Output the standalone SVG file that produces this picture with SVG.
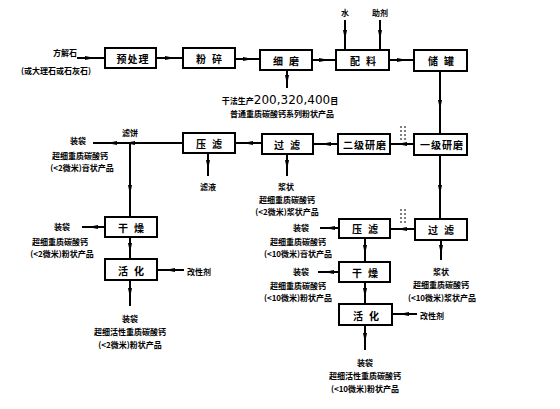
<svg xmlns="http://www.w3.org/2000/svg" width="560" height="409" viewBox="0 0 560 409">
<style>
.box{fill:#fff;stroke:#000;stroke-width:2}
.bl{font-family:"Noto Sans CJK SC","Noto Sans CJK JP",sans-serif;font-size:10px;font-weight:bold;text-anchor:middle;dominant-baseline:central;letter-spacing:6px}
.t{font-family:"Noto Sans CJK SC","Noto Sans CJK JP",sans-serif;font-size:8px;font-weight:bold;text-anchor:middle;dominant-baseline:central}
.num{font-family:"DejaVu Sans","Liberation Sans",sans-serif;font-size:12px;font-weight:normal}
.c{fill:none;stroke:#000;stroke-width:2}
.d{fill:none;stroke:#000;stroke-width:1;stroke-dasharray:2 2}
</style>
<defs>
<marker id="a" viewBox="0 0 10 6" refX="5" refY="3" markerWidth="10" markerHeight="6" markerUnits="userSpaceOnUse" orient="auto">
<path d="M0,1 L10,3 L0,5 Z" fill="#000"/>
</marker>
</defs>
<rect width="560" height="409" fill="#fff"/>
<g id="connectors">
<path class="c" d="M77,58 L90,58 L104,58" marker-mid="url(#a)"/>
<path class="c" d="M156,58 L170,58 L183,58" marker-mid="url(#a)"/>
<path class="c" d="M235,59 L248,59 L260,59" marker-mid="url(#a)"/>
<path class="c" d="M312,60 L324,60 L336,60" marker-mid="url(#a)"/>
<path class="c" d="M389,60 L402,60 L414,60" marker-mid="url(#a)"/>
<path class="c" d="M345,20 L345,35 L345,50" marker-mid="url(#a)"/>
<path class="c" d="M380,20 L380,35 L380,50" marker-mid="url(#a)"/>
<path class="c" d="M287,70 L287,80 L287,88" marker-mid="url(#a)"/>
<path class="c" d="M440,71 L440,105 L440,134" marker-mid="url(#a)"/>
<path class="c" d="M414,144 L402,144 L390,144" marker-mid="url(#a)"/>
<path class="c" d="M338,144 L326,144 L313,144" marker-mid="url(#a)"/>
<path class="c" d="M262,143 L248,143 L235,143" marker-mid="url(#a)"/>
<path class="c" d="M183,143 L130,143 L112,143 L93,143" marker-mid="url(#a)"/>
<path class="c" d="M130,143 L130,190 L130,217" marker-mid="url(#a)"/>
<path class="c" d="M208,153 L208,165 L208,176" marker-mid="url(#a)"/>
<path class="c" d="M287,154 L287,165 L287,176" marker-mid="url(#a)"/>
<path class="c" d="M104,227 L93,227 L82,227" marker-mid="url(#a)"/>
<path class="c" d="M130,237 L130,248 L130,259" marker-mid="url(#a)"/>
<path class="c" d="M184,270 L170,270 L157,270" marker-mid="url(#a)"/>
<path class="c" d="M130,280 L130,293 L130,306" marker-mid="url(#a)"/>
<path class="c" d="M440,155 L440,190 L440,219" marker-mid="url(#a)"/>
<path class="c" d="M415,229 L402,229 L390,229" marker-mid="url(#a)"/>
<path class="c" d="M339,228 L330,228 L320,228" marker-mid="url(#a)"/>
<path class="c" d="M365,238 L365,250 L365,262" marker-mid="url(#a)"/>
<path class="c" d="M339,272 L329,272 L318,272" marker-mid="url(#a)"/>
<path class="c" d="M365,282 L365,293 L365,304" marker-mid="url(#a)"/>
<path class="c" d="M417,314 L404,314 L392,314" marker-mid="url(#a)"/>
<path class="c" d="M365,325 L365,338 L365,350" marker-mid="url(#a)"/>
<path class="c" d="M441,240 L441,250 L441,260" marker-mid="url(#a)"/>
<path class="d" d="M401,126 L401,140 M405,126 L405,140"/>
<path class="d" d="M401,209 L401,223 M405,209 L405,223"/>
</g>
<g id="n-source"><text class="t" x="65" y="52">方解石</text><text class="t" x="56" y="70">(或大理石或石灰石)</text></g>
<g id="n-pre"><rect class="box" x="105" y="48" width="51" height="20"/><text class="bl" x="133" y="58" style="letter-spacing:1px">预处理</text></g>
<g id="n-crush"><rect class="box" x="183" y="48" width="52" height="20"/><text class="bl" x="212" y="58">粉碎</text></g>
<g id="n-fine"><rect class="box" x="260" y="50" width="52" height="20"/><text class="bl" x="289" y="60">细磨</text></g>
<g id="n-mix"><rect class="box" x="336" y="50" width="53" height="20"/><text class="bl" x="366" y="60">配料</text></g>
<g id="n-tank"><rect class="box" x="414" y="50" width="53" height="21"/><text class="bl" x="444" y="60">储罐</text></g>
<g id="n-water"><text class="t" x="345" y="12">水</text></g>
<g id="n-agent"><text class="t" x="380" y="12">助剂</text></g>
<g id="n-dry-product"><text class="t" x="280" y="100"><tspan>干法生产</tspan><tspan class="num">200,320,400</tspan><tspan>目</tspan></text><text class="t" x="282" y="113">普通重质碳酸钙系列粉状产品</text></g>
<g id="n-grind1"><rect class="box" x="414" y="134" width="53" height="21"/><text class="bl" x="442" y="144" style="letter-spacing:1px">一级研磨</text></g>
<g id="n-grind2"><rect class="box" x="338" y="134" width="52" height="20"/><text class="bl" x="365" y="144" style="letter-spacing:1px">二级研磨</text></g>
<g id="n-filter1"><rect class="box" x="262" y="134" width="51" height="20"/><text class="bl" x="290" y="144">过滤</text></g>
<g id="n-press1"><rect class="box" x="183" y="133" width="52" height="20"/><text class="bl" x="212" y="143">压滤</text></g>
<g id="n-cake"><text class="t" x="130" y="132">滤饼</text></g>
<g id="n-paste2"><text class="t" x="78" y="140">装袋</text><text class="t" x="80" y="155">超细重质碳酸钙</text><text class="t" x="82" y="167">(&lt;2微米)膏状产品</text></g>
<g id="n-filtrate"><text class="t" x="208" y="186">滤液</text></g>
<g id="n-slurry2"><text class="t" x="286" y="186">浆状</text><text class="t" x="287" y="199">超细重质碳酸钙</text><text class="t" x="287" y="211">(&lt;2微米)浆状产品</text></g>
<g id="n-dry1"><rect class="box" x="105" y="217" width="52" height="20"/><text class="bl" x="134" y="227">干燥</text></g>
<g id="n-powder2"><text class="t" x="62" y="226">装袋</text><text class="t" x="60" y="241">超细重质碳酸钙</text><text class="t" x="62" y="253">(&lt;2微米)粉状产品</text></g>
<g id="n-act1"><rect class="box" x="105" y="259" width="52" height="21"/><text class="bl" x="134" y="270">活化</text></g>
<g id="n-mod1"><text class="t" x="199" y="271">改性剂</text></g>
<g id="n-active2"><text class="t" x="130" y="318">装袋</text><text class="t" x="130" y="331">超细活性重质碳酸钙</text><text class="t" x="130" y="344">(&lt;2微米)粉状产品</text></g>
<g id="n-filter2"><rect class="box" x="415" y="219" width="52" height="21"/><text class="bl" x="444" y="229">过滤</text></g>
<g id="n-press2"><rect class="box" x="339" y="219" width="51" height="19"/><text class="bl" x="368" y="228">压滤</text></g>
<g id="n-paste10"><text class="t" x="301" y="227">装袋</text><text class="t" x="298" y="241">超细重质碳酸钙</text><text class="t" x="298" y="253">(&lt;10微米)膏状产品</text></g>
<g id="n-slurry10"><text class="t" x="441" y="271">浆状</text><text class="t" x="441" y="284">超细重质碳酸钙</text><text class="t" x="442" y="297">(&lt;10微米)浆状产品</text></g>
<g id="n-dry2"><rect class="box" x="339" y="262" width="51" height="20"/><text class="bl" x="368" y="272">干燥</text></g>
<g id="n-powder10"><text class="t" x="301" y="271">装袋</text><text class="t" x="298" y="285">超细重质碳酸钙</text><text class="t" x="298" y="297">(&lt;10微米)粉状产品</text></g>
<g id="n-act2"><rect class="box" x="339" y="304" width="53" height="21"/><text class="bl" x="369" y="315">活化</text></g>
<g id="n-mod2"><text class="t" x="432" y="315">改性剂</text></g>
<g id="n-active10"><text class="t" x="365" y="362">装袋</text><text class="t" x="365" y="375">超细活性重质碳酸钙</text><text class="t" x="365" y="388">(&lt;10微米)粉状产品</text></g>
</svg>
